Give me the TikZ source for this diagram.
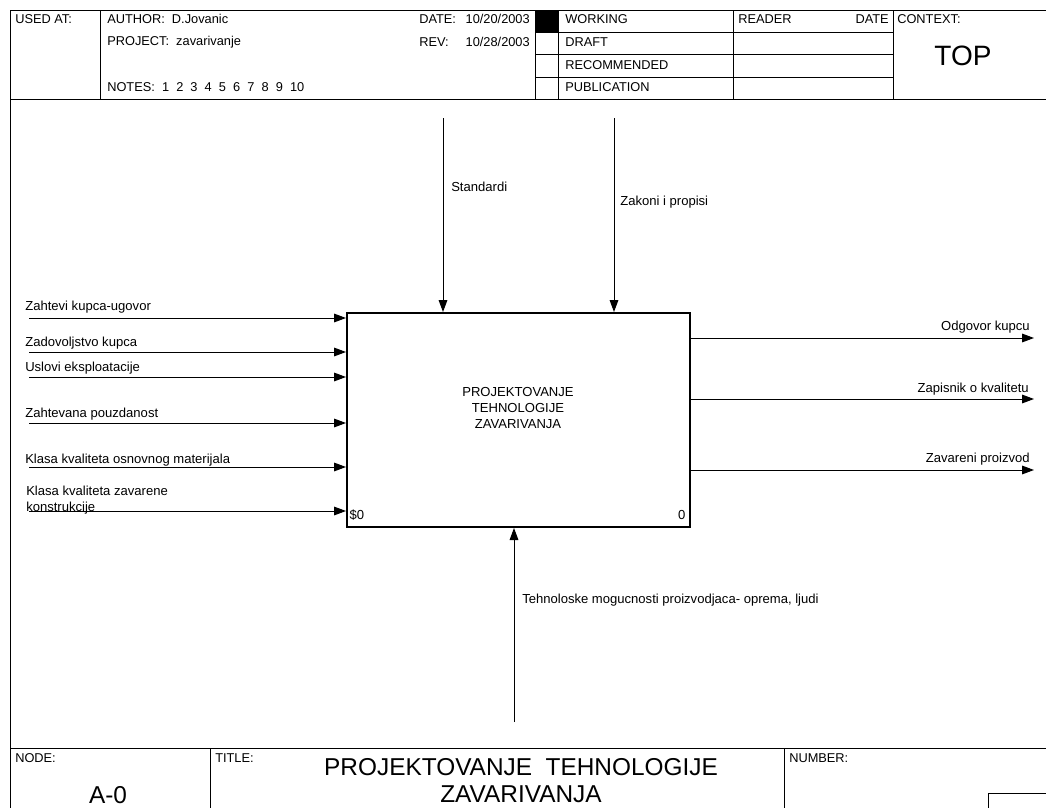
\documentclass[tikz,border=0pt]{standalone}
\usepackage{fontspec}
\setmainfont{Liberation Sans}
\usetikzlibrary{arrows.meta,positioning}

\tikzset{
	lbl/.style={anchor=west, inner sep=0pt, font=\fontsize{9.8}{12}\selectfont},
	rlbl/.style={anchor=east, inner sep=0pt, font=\fontsize{9.8}{12}\selectfont},
	hdr/.style={anchor=west, inner sep=0pt, font=\fontsize{9.6}{11}\selectfont},
	rhdr/.style={anchor=east, inner sep=0pt, font=\fontsize{9.6}{11}\selectfont},
	big/.style={inner sep=0pt, font=\fontsize{18.3}{21}\selectfont},
	flow/.style={line width=0.75pt, -{Triangle[length=9pt,width=6.5pt]}},
	thin/.style={line width=0.75pt},
	actbox/.style={draw, line width=1.5pt, minimum width=257.25pt, minimum height=160.5pt, inner sep=0pt}
}

\begin{document}
\begin{tikzpicture}[x=0.75pt, y=-0.75pt]
			%%%%% START %%%%%
			\useasboundingbox (0,0) rectangle (1046,807);
			
			% frame and header
			\draw[thin] (1050,10) -- (10,10) -- (10,810);
			\draw[thin] (10,99) -- (1050,99);
			\draw[thin] (100,10) -- (100,99);
			\draw[thin] (535,10) -- (535,99);
			\draw[thin] (558,10) -- (558,99);
			\draw[thin] (733,10) -- (733,99);
			\draw[thin] (893,10) -- (893,99);
			\draw[thin] (535,32) -- (893,32);
			\draw[thin] (535,54) -- (893,54);
			\draw[thin] (535,77) -- (893,77);
			\draw[fill=black] (535,10) rectangle (558,32);
			
			\node[hdr] (usedat) at (15,19) {USED AT:};
			\node[hdr] (author) at (107,19) {AUTHOR:\ \ D.Jovanic};
			\node[hdr] (project) at (107,42) {PROJECT:\ \ zavarivanje};
			\node[hdr] (notes) at (107,87) {NOTES:\ \ 1\ \ 2\ \ 3\ \ 4\ \ 5\ \ 6\ \ 7\ \ 8\ \ 9\ \ 10};
			\node[hdr] (date) at (419,19) {DATE:};
			\node[rhdr] (dateval) at (530,19) {10/20/2003};
			\node[hdr] (rev) at (419,42) {REV:};
			\node[rhdr] (revval) at (530,42) {10/28/2003};
			\node[hdr] (working) at (565,19) {WORKING};
			\node[hdr] (draft) at (565,42) {DRAFT};
			\node[hdr] (recom) at (565,65) {RECOMMENDED};
			\node[hdr] (public) at (565,87) {PUBLICATION};
			\node[hdr] (reader) at (738,19) {READER};
			\node[rhdr] (rdate) at (889,19) {DATE};
			\node[hdr] (context) at (897,19) {CONTEXT:};
			\node[inner sep=0pt, font=\fontsize{21}{24}\selectfont] (top) at (963,56) {TOP};
			
			% activity
			\node[actbox] (act) at (518.5,420) {};
			\node[inner sep=0pt, align=center, font=\fontsize{9.8}{12}\selectfont] (actname) at (518,408) {PROJEKTOVANJE\\TEHNOLOGIJE\\ZAVARIVANJA};
			\node[lbl] (refno) at ([xshift=2.5pt,yshift=10pt]act.south west) {\$0};
			\node[rlbl] (actno) at ([xshift=-4pt,yshift=10pt]act.south east) {0};
			
			% inputs
			\coordinate (in1) at (29,318);
			\coordinate (in2) at (29,352);
			\coordinate (in3) at (29,377);
			\coordinate (in4) at (29,423);
			\coordinate (in5) at (29,467);
			\coordinate (in6) at (29,511);
			\draw[flow] (in1) -- (in1 -| act.west);
			\draw[flow] (in2) -- (in2 -| act.west);
			\draw[flow] (in3) -- (in3 -| act.west);
			\draw[flow] (in4) -- (in4 -| act.west);
			\draw[flow] (in5) -- (in5 -| act.west);
			\draw[flow] (in6) -- (in6 -| act.west);
			\node[lbl] (inlbl1) at (25,307) {Zahtevi kupca-ugovor};
			\node[lbl] (inlbl2) at (25,343) {Zadovoljstvo kupca};
			\node[lbl] (inlbl3) at (25,368) {Uslovi eksploatacije};
			\node[lbl] (inlbl4) at (25,414) {Zahtevana pouzdanost};
			\node[lbl] (inlbl5) at (25,460) {Klasa kvaliteta osnovnog materijala};
			\node[lbl] (inlbl6) at (26,491) {Klasa kvaliteta zavarene};
			\node[lbl] (inlbl7) at (26,508) {konstrukcije};
			
			% outputs
			\coordinate (out1) at (1034,338);
			\coordinate (out2) at (1034,399);
			\coordinate (out3) at (1034,470);
			\draw[flow] (out1 -| act.east) -- (out1);
			\draw[flow] (out2 -| act.east) -- (out2);
			\draw[flow] (out3 -| act.east) -- (out3);
			\node[rlbl] (outlbl1) at (1030,327) {Odgovor kupcu};
			\node[rlbl] (outlbl2) at (1029,389) {Zapisnik o kvalitetu};
			\node[rlbl] (outlbl3) at (1030,459) {Zavareni proizvod};
			
			% controls
			\coordinate (ctl1) at (443,118);
			\coordinate (ctl2) at (614,118);
			\draw[flow] (ctl1) -- (ctl1 |- act.north);
			\draw[flow] (ctl2) -- (ctl2 |- act.north);
			\node[lbl] (ctllbl1) at (451,187) {Standardi};
			\node[lbl] (ctllbl2) at (620,202) {Zakoni i propisi};
			
			% mechanism
			\coordinate (mech1) at (514,722);
			\draw[flow] (mech1) -- (mech1 |- act.south);
			\node[lbl] (mechlbl1) at (522,600) {Tehnoloske mogucnosti proizvodjaca- oprema, ljudi};
			
			% footer
			\draw[thin] (10,748) -- (1050,748);
			\draw[thin] (210,748) -- (210,810);
			\draw[thin] (784,748) -- (784,810);
			\draw[thin] (988,810) -- (988,793) -- (1050,793);
			\node[hdr] (nodehd) at (15,758) {NODE:};
			\node[hdr] (titlehd) at (215,758) {TITLE:};
			\node[hdr] (numberhd) at (789,758) {NUMBER:};
			\node[big] (nodeno) at (108,795) {A-0};
			\node[big] (title1) at (521,767) {PROJEKTOVANJE\ \ TEHNOLOGIJE};
			\node[big] (title2) at (521,794) {ZAVARIVANJA};
			
			%%%%% END %%%%%
\end{tikzpicture}
\end{document}
